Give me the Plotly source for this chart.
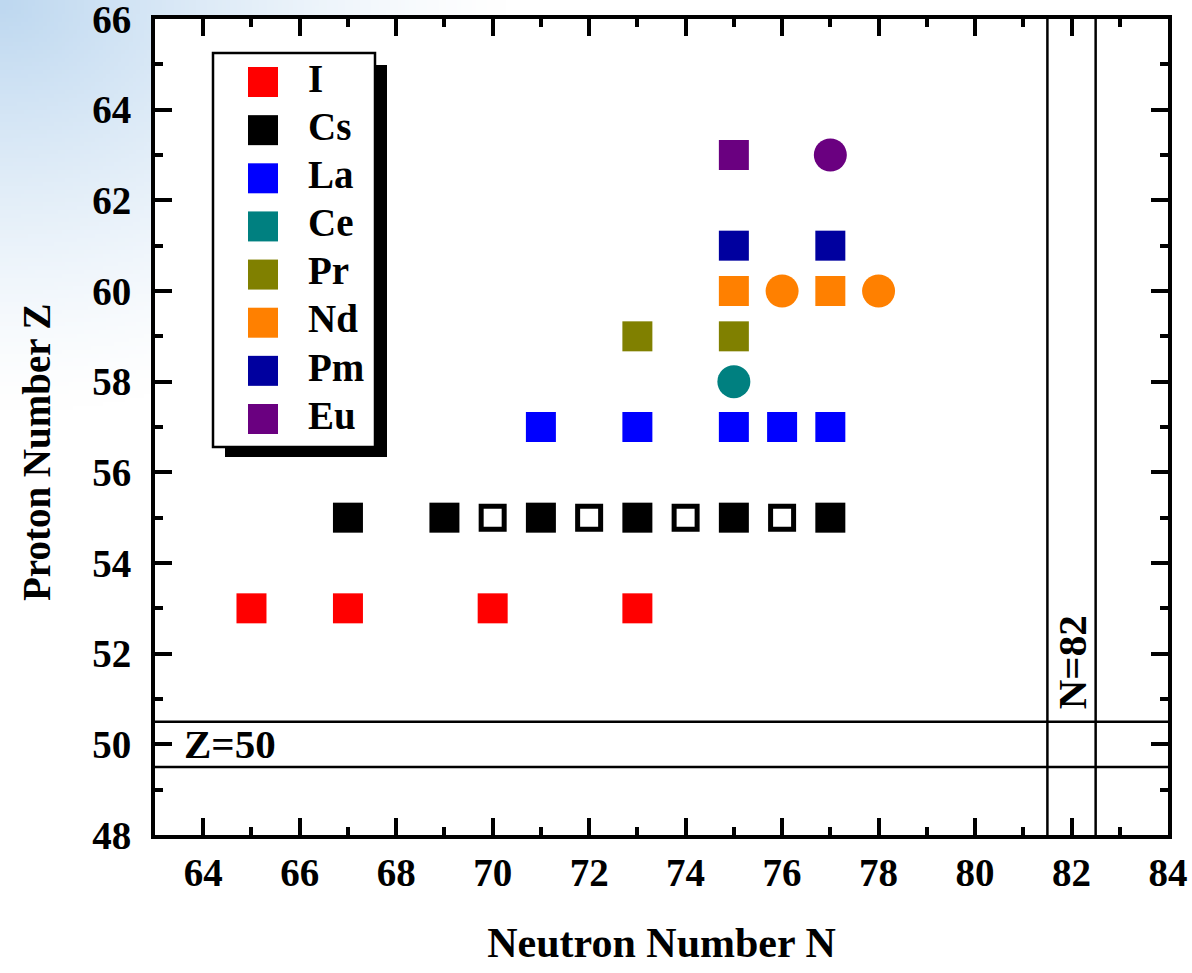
import base64, struct, zlib
import numpy as np
import plotly.graph_objects as go

# ---------------- data ----------------
elements = ["I", "Cs", "La", "Ce", "Pr", "Nd", "Pm", "Eu"]
colors = ["#FF0000", "#000000", "#0000FF", "#008080", "#808000", "#FF8000", "#00009F", "#6A0080"]

# filled square points: neutron numbers N per element
sq_N = {
    "I": [65, 67, 70, 73],
    "Cs": [67, 69, 71, 73, 75, 77],
    "La": [71, 73, 75, 76, 77],
    "Ce": [],
    "Pr": [73, 75],
    "Nd": [75, 77],
    "Pm": [75, 77],
    "Eu": [75],
}
Z_of = {"I": 53, "Cs": 55, "La": 57, "Ce": 58, "Pr": 59, "Nd": 60, "Pm": 61, "Eu": 63}
# circle points
circ_N = {"Ce": [75], "Nd": [76, 78], "Eu": [77]}
# open squares (Cs)
open_N_Cs = [70, 72, 74, 76]

shell_Z = [49.5, 50.5]
shell_N = [81.5, 82.5]
shell_labels = ["Z=50", "N=82"]

x_ticks = [64, 66, 68, 70, 72, 74, 76, 78, 80, 82, 84]
y_ticks = [48, 50, 52, 54, 56, 58, 60, 62, 64, 66]
x_range = [63, 84]
y_range = [48, 66]
x_title = "Neutron Number N"
y_title = "Proton Number Z"

FONT = "Liberation Serif, Times New Roman, serif"

# ---------------- background gradient image ----------------
W, H = 150, 120
yy, xx = np.mgrid[0:H, 0:W]
d = np.sqrt((xx / (W * 0.9)) ** 2 + (yy / (H * 0.85)) ** 2)
t = np.clip(1 - d, 0, 1) ** 1.3
base = np.array([190, 216, 240], dtype=float)
img = (255 * (1 - t[..., None]) + base * t[..., None]).astype(np.uint8)
raw = b"".join(b"\x00" + img[r].tobytes() for r in range(H))
def chunk(tag, data):
    c = tag + data
    return struct.pack(">I", len(data)) + c + struct.pack(">I", zlib.crc32(c) & 0xffffffff)
png = (b"\x89PNG\r\n\x1a\n" + chunk(b"IHDR", struct.pack(">IIBBBBB", W, H, 8, 2, 0, 0, 0))
       + chunk(b"IDAT", zlib.compress(raw, 9)) + chunk(b"IEND", b""))
uri = "data:image/png;base64," + base64.b64encode(png).decode()

# ---------------- figure ----------------
FW, FH = 1192, 973
ML, MR, MT, MB = 155, 24, 19, 138
PW, PH = FW - ML - MR, FH - MT - MB

def px_x(p):  # pixel -> paper x
    return (p - ML) / PW
def px_y(p):  # pixel -> paper y
    return (FH - MB - p) / PH

fig = go.Figure()

for el, col in zip(elements, colors):
    if sq_N.get(el):
        fig.add_trace(go.Scatter(
            x=sq_N[el], y=[Z_of[el]] * len(sq_N[el]), mode="markers",
            marker=dict(symbol="square", size=30, color=col, line=dict(width=0)),
            showlegend=False, name=el))
    if circ_N.get(el):
        fig.add_trace(go.Scatter(
            x=circ_N[el], y=[Z_of[el]] * len(circ_N[el]), mode="markers",
            marker=dict(symbol="circle", size=33, color=col, line=dict(width=0)),
            showlegend=False, name=el))

fig.add_trace(go.Scatter(
    x=open_N_Cs, y=[Z_of["Cs"]] * len(open_N_Cs), mode="markers",
    marker=dict(symbol="square-open", size=23, color="black", line=dict(width=5, color="black")),
    showlegend=False, name="Cs"))

# manual legend on its own axes
idx = list(range(len(elements)))
fig.add_trace(go.Scatter(
    x=[0] * len(elements), y=idx, mode="markers",
    marker=dict(symbol="square", size=30, color=colors, line=dict(width=0)),
    xaxis="x2", yaxis="y2", showlegend=False, hoverinfo="skip"))
fig.add_trace(go.Scatter(
    x=[1] * len(elements), y=idx, mode="text", text=elements, textposition="middle right",
    textfont=dict(family=FONT, size=39, color="black", weight="bold"),
    xaxis="x2", yaxis="y2", showlegend=False, hoverinfo="skip"))

shapes = []
shapes.append(dict(type="rect", xref="paper", yref="paper", x0=0, x1=1, y0=0, y1=1,
                   fillcolor="white", line=dict(width=0), layer="below"))
for z in shell_Z:
    shapes.append(dict(type="line", xref="paper", yref="y", x0=0, x1=1, y0=z, y1=z,
                       line=dict(color="black", width=2.5)))
for n in shell_N:
    shapes.append(dict(type="line", xref="x", yref="paper", x0=n, x1=n, y0=0, y1=1,
                       line=dict(color="black", width=2.5)))
# legend shadow + box
shapes.append(dict(type="rect", xref="paper", yref="paper",
                   x0=px_x(225), x1=px_x(387), y0=px_y(457), y1=px_y(65),
                   fillcolor="black", line=dict(width=0), layer="below"))
shapes.append(dict(type="rect", xref="paper", yref="paper",
                   x0=px_x(213), x1=px_x(375), y0=px_y(447), y1=px_y(53),
                   fillcolor="white", line=dict(color="black", width=2.5), layer="below"))

annotations = [
    dict(text=shell_labels[0], x=63.55, y=np.mean(shell_Z), xref="x", yref="y",
         xanchor="left", yanchor="middle", showarrow=False,
         font=dict(family=FONT, size=41, color="black", weight="bold")),
    dict(text=shell_labels[1], x=np.mean(shell_N), y=51.8, xref="x", yref="y",
         xanchor="center", yanchor="middle", showarrow=False, textangle=-90,
         font=dict(family=FONT, size=41, color="black", weight="bold")),
    dict(text=y_title, x=px_x(36), y=px_y(452), xref="paper", yref="paper",
         xanchor="center", yanchor="middle", showarrow=False, textangle=-90,
         font=dict(family=FONT, size=39, color="black", weight="bold")),
]

axis_common = dict(showgrid=False, zeroline=False, showline=True, linecolor="black", linewidth=4,
                   mirror="ticks", ticks="inside", ticklen=17, tickwidth=4, tickcolor="black",
                   automargin=False, ticklabeloverflow="allow",
                   tickfont=dict(family=FONT, size=39, color="black", weight="bold"))

lx0, lx1 = px_x(213), px_x(375)
ly0, ly1 = px_y(447), px_y(53)
lw_px = 375 - 213
unit = 45.0
r0 = -(263 - 213) / unit

fig.update_layout(
    template="none",
    width=FW, height=FH,
    margin=dict(l=ML, r=MR, t=MT, b=MB, autoexpand=False),
    paper_bgcolor="white", plot_bgcolor="rgba(0,0,0,0)",
    showlegend=False,
    xaxis=dict(range=x_range, tickvals=x_ticks, ticktext=[str(v) for v in x_ticks],
               minor=dict(ticks="inside", ticklen=8, tickwidth=4, tickcolor="black", dtick=1, tick0=63,
                          showgrid=False),
               ticklabelstandoff=0,
               title=dict(text=x_title, standoff=36,
                          font=dict(family=FONT, size=42, color="black", weight="bold")),
               **axis_common),
    yaxis=dict(range=y_range, tickvals=y_ticks, ticktext=[str(v) for v in y_ticks],
               minor=dict(ticks="inside", ticklen=8, tickwidth=4, tickcolor="black", dtick=1, tick0=48,
                          showgrid=False),
               ticklabelstandoff=12,
               **axis_common),
    xaxis2=dict(domain=[lx0, lx1], anchor="y2", range=[r0, r0 + lw_px / unit], visible=False,
                fixedrange=True),
    yaxis2=dict(domain=[ly0, ly1], anchor="x2",
                range=[7 + (447 - 419) / 48.1, -(82 - 53) / 48.1], visible=False, fixedrange=True),
    shapes=shapes,
    annotations=annotations,
    images=[dict(source=uri, xref="paper", yref="paper", x=px_x(0), y=px_y(0),
                 sizex=560 / PW, sizey=480 / PH, sizing="stretch", xanchor="left",
                 yanchor="top", layer="below")],
)

fig.write_html("out.html", config={"displayModeBar": False},
               post_script="document.body.style.margin='0';document.body.style.overflow='hidden';")
